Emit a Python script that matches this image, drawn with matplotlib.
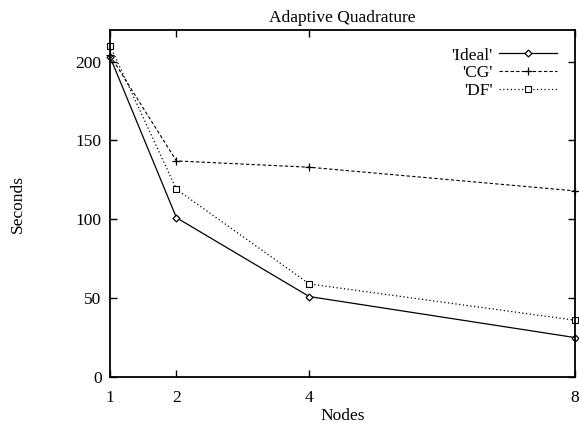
import matplotlib
matplotlib.use("Agg")
import matplotlib.pyplot as plt

# ─── DATA ─────────────────────────────────────────────────────────────────────
nodes = [1, 2, 4, 8]
ideal = [203, 101, 51, 25]
cg = [204, 137, 133, 118]
df = [210, 119, 59, 36]
x_ticks = [1, 2, 4, 8]
y_ticks = [0, 50, 100, 150, 200]
# ──────────────────────────────────────────────────────────────────────────────

plt.rcParams["font.family"] = ["Liberation Serif", "DejaVu Serif"]
FS = 12.5

fig = plt.figure(figsize=(5.79, 4.23), dpi=100)
ax = fig.add_axes([110 / 579, 1 - 377 / 423, 465 / 579, 347 / 423])

ax.plot(nodes, ideal, color="black", linestyle="-", linewidth=0.9,
        marker="D", markersize=3.5, markerfacecolor="white",
        markeredgecolor="black", markeredgewidth=0.9, label="'Ideal'", clip_on=False)
ax.plot(nodes, cg, color="black", linestyle=(0, (3, 2)), linewidth=0.8,
        marker="+", markersize=6, markeredgewidth=0.9, label="'CG'", clip_on=False)
ax.plot(nodes, df, color="black", linestyle=(0, (1, 2)), linewidth=0.9,
        marker="s", markersize=5, markerfacecolor="white",
        markeredgecolor="black", markeredgewidth=0.8, label="'DF'", clip_on=False)

ax.set_xlim(1, 8)
ax.set_ylim(0, 220)
ax.set_xticks(x_ticks)
ax.set_yticks(y_ticks)
ax.tick_params(direction="in", top=True, right=True, length=5, width=1,
               labelsize=FS, pad=6)
ax.tick_params(axis="x", pad=9)
for s in ax.spines.values():
    s.set_linewidth(1.3)

ax.set_title("Adaptive Quadrature", fontsize=FS, pad=6)
ax.set_xlabel("Nodes", fontsize=FS, labelpad=2)
ax.set_ylabel("Seconds", fontsize=FS, labelpad=36)

ax.legend(loc="upper right", frameon=False, markerfirst=False, numpoints=1,
          fontsize=FS, handlelength=3.3, handletextpad=0.4, labelspacing=0.1,
          borderaxespad=0.6, bbox_to_anchor=(0.998, 1.0))

plt.savefig("out.png", dpi=100)
